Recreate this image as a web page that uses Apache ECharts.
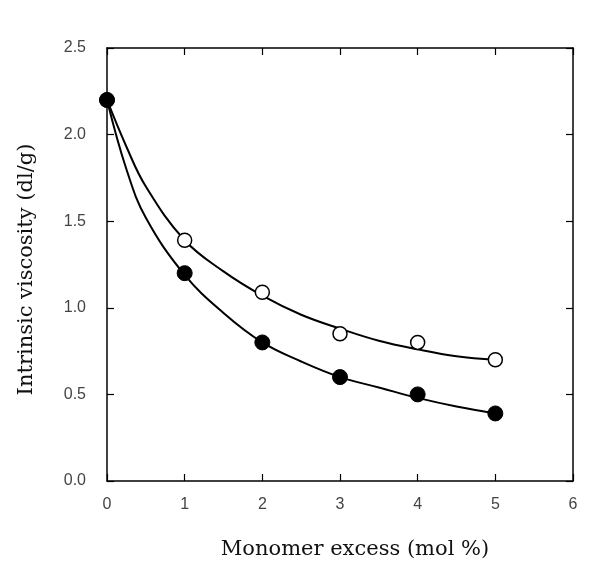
<!DOCTYPE html>
<html><head><meta charset="utf-8">
<script src="https://cdn.jsdelivr.net/npm/echarts@6/dist/echarts.min.js"></script>
<style>html,body{margin:0;padding:0;background:#fff}#c{width:606px;height:572px}</style>
</head><body><div id="c"></div>
<script>
// Data
const openX = [0, 1, 2, 3, 4, 5];
const openY = [2.2, 1.39, 1.09, 0.85, 0.80, 0.70];
const filledX = [0, 1, 2, 3, 4, 5];
const filledY = [2.2, 1.2, 0.80, 0.60, 0.50, 0.39];
// fitted curves
const curveX = [0, 0.25, 0.5, 1, 1.5, 2, 2.5, 3, 3.5, 4, 4.5, 5];
const openCurveY = [2.2, 1.93, 1.70, 1.39, 1.21, 1.07, 0.96, 0.88, 0.81, 0.76, 0.72, 0.70];
const filledCurveY = [2.2, 1.80, 1.52, 1.19, 0.97, 0.80, 0.69, 0.60, 0.54, 0.48, 0.43, 0.39];
const xTicks = ['0','1','2','3','4','5','6'];
const yTicks = ['0.0','0.5','1.0','1.5','2.0','2.5'];

const pair = (xs, ys) => xs.map((x, i) => [x, ys[i]]);
const axLine = {show: true, onZero: false, lineStyle: {color: '#000', width: 1.5}};
const tick = () => ({show: true, inside: false, length: -7, lineStyle: {color: '#000', width: 1.2}});
const lblFont = {color: '#444', fontFamily: 'Liberation Sans, Arial, sans-serif', fontSize: 16};

const chart = echarts.init(document.getElementById('c'), null, {renderer: 'canvas'});
chart.setOption({
  animation: false,
  backgroundColor: '#fff',
  grid: {left: 107, right: 33, top: 48, bottom: 91, show: false},
  xAxis: [
    {type: 'value', min: 0, max: 6, interval: 1, position: 'bottom',
     axisLine: axLine, axisTick: tick(), splitLine: {show: false},
     axisLabel: Object.assign({margin: 16, formatter: v => xTicks[v]}, lblFont),
     name: 'Monomer excess (mol %)', nameLocation: 'middle', nameGap: 58,
     nameTextStyle: {fontFamily: 'DejaVu Serif, serif', fontSize: 21, color: '#111', padding: [0, 0, 0, 30]}},
    {type: 'value', min: 0, max: 6, interval: 1, position: 'top',
     axisLine: axLine, axisTick: tick(), splitLine: {show: false}, axisLabel: {show: false}}
  ],
  yAxis: [
    {type: 'value', min: 0, max: 2.5, interval: 0.5, position: 'left',
     axisLine: axLine, axisTick: tick(), splitLine: {show: false},
     axisLabel: Object.assign({margin: 21, formatter: v => yTicks[Math.round(v / 0.5)]}, lblFont),
     name: 'Intrinsic viscosity (dl/g)', nameLocation: 'middle', nameGap: 70, nameRotate: 90,
     nameTextStyle: {fontFamily: 'DejaVu Serif, serif', fontSize: 21, color: '#111', padding: [0, 10, 0, 0]}},
    {type: 'value', min: 0, max: 2.5, interval: 0.5, position: 'right',
     axisLine: axLine, axisTick: tick(), splitLine: {show: false}, axisLabel: {show: false}}
  ],
  series: [
    {type: 'line', data: pair(curveX, openCurveY), smooth: 0.4, symbol: 'none',
     lineStyle: {color: '#000', width: 2}, z: 2},
    {type: 'line', data: pair(curveX, filledCurveY), smooth: 0.4, symbol: 'none',
     lineStyle: {color: '#000', width: 2}, z: 2},
    {type: 'scatter', data: pair(openX, openY), symbol: 'circle', symbolSize: 14,
     itemStyle: {color: '#fff', borderColor: '#000', borderWidth: 1.5, opacity: 1}, z: 3},
    {type: 'scatter', data: pair(filledX, filledY), symbol: 'circle', symbolSize: 15,
     itemStyle: {color: '#000', borderColor: '#000', borderWidth: 1, opacity: 1}, z: 4}
  ]
});
</script></body></html>
